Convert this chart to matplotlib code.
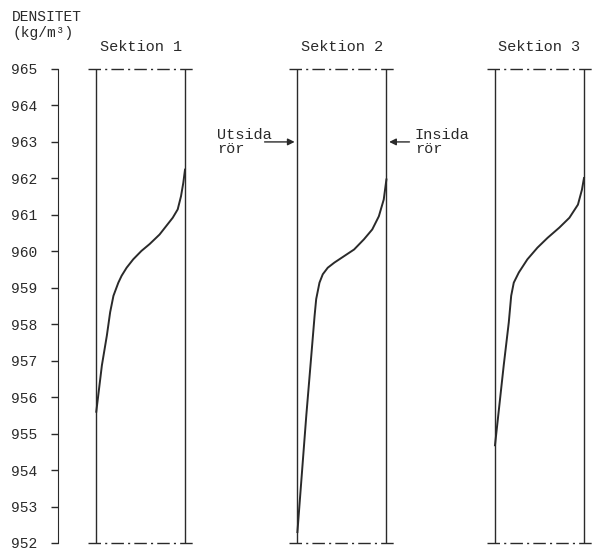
import matplotlib.pyplot as plt

plt.rcParams['font.family'] = ['Liberation Mono', 'DejaVu Sans Mono']

# density scale
y_min, y_max = 952, 965
yticks = list(range(952, 966))

titles = ["Sektion 1", "Sektion 2", "Sektion 3"]
# left edge of each section (outside of pipe), section width is 1
sec_left = [0.43, 2.69, 4.91]

# profiles: position across wall (0 = outside, 1 = inside) and density
s1_pos = [0.0, 0.063, 0.119, 0.156, 0.193, 0.248, 0.285, 0.341, 0.415, 0.507,
          0.60, 0.711, 0.785, 0.859, 0.915, 0.952, 0.978, 0.997]
s1_rho = [955.6, 956.87, 957.69, 958.33, 958.78, 959.14, 959.33, 959.55, 959.78, 960.01,
          960.2, 960.46, 960.69, 960.92, 961.15, 961.51, 961.88, 962.24]

s2_pos = [0.0, 0.10, 0.156, 0.193, 0.211, 0.248, 0.285, 0.341, 0.415, 0.526,
          0.637, 0.748, 0.841, 0.915, 0.970, 1.0]
s2_rho = [952.3, 955.5, 957.14, 958.23, 958.69, 959.14, 959.37, 959.55, 959.69, 959.87,
          960.05, 960.33, 960.6, 960.96, 961.42, 961.97]

s3_pos = [0.0, 0.098, 0.155, 0.182, 0.211, 0.268, 0.364, 0.477, 0.591, 0.723,
          0.836, 0.932, 0.977, 1.0]
s3_rho = [954.68, 956.87, 958.05, 958.78, 959.14, 959.42, 959.78, 960.1, 960.37, 960.65,
          960.92, 961.28, 961.69, 962.01]

profiles = [(s1_pos, s1_rho), (s2_pos, s2_rho), (s3_pos, s3_rho)]

fig = plt.figure(figsize=(5.94, 5.5), dpi=100)
ax = fig.add_axes([58 / 594, 7 / 550, 536 / 594, 474 / 550])
ax.set_xlim(0, 536 / 89)
ax.set_ylim(y_min, y_max)

ink = '#2a2a2a'
for x0, title, (pos, rho) in zip(sec_left, titles, profiles):
    # pipe walls
    ax.plot([x0, x0], [y_min, y_max], color=ink, lw=1.0)
    ax.plot([x0 + 1, x0 + 1], [y_min, y_max], color=ink, lw=1.0)
    # dash-dot limits
    for yy in (y_min, y_max):
        ax.plot([x0 - 0.09, x0 + 1.1], [yy, yy], color=ink, lw=1.0,
                linestyle=(0, (9, 3, 1.5, 3)), clip_on=False)
    ax.plot([x0 + p for p in pos], rho, color=ink, lw=1.4, solid_joinstyle='round')
    ax.text(x0 + 0.5, 965.6, title, ha='center', va='center', fontsize=11, color=ink)

# arrows
ax.annotate("", xy=(2.69, 963), xytext=(2.29, 963),
            arrowprops=dict(arrowstyle='-|>', color=ink, lw=1.0, mutation_scale=10))
ax.text(1.79, 963.0, "Utsida\nrör", ha='left', va='center', fontsize=11,
        color=ink, linespacing=1.0)
ax.annotate("", xy=(3.69, 963), xytext=(3.98, 963),
            arrowprops=dict(arrowstyle='-|>', color=ink, lw=1.0, mutation_scale=10))
ax.text(4.01, 963.0, "Insida\nrör", ha='left', va='center', fontsize=11,
        color=ink, linespacing=1.0)

for s in ['top', 'right', 'bottom']:
    ax.spines[s].set_visible(False)
ax.spines['left'].set_color(ink)
ax.set_xticks([])
ax.set_yticks(yticks)
ax.tick_params(axis='y', direction='out', length=5, width=1, colors=ink,
               labelsize=10.5, pad=10)

fig.text(12 / 594, 1 - 17 / 550, "DENSITET", ha='left', va='center', fontsize=10.5, color=ink)
fig.text(12 / 594, 1 - 33 / 550, "(kg/m³)", ha='left', va='center', fontsize=10.5, color=ink)

fig.savefig("out.png", dpi=100)
